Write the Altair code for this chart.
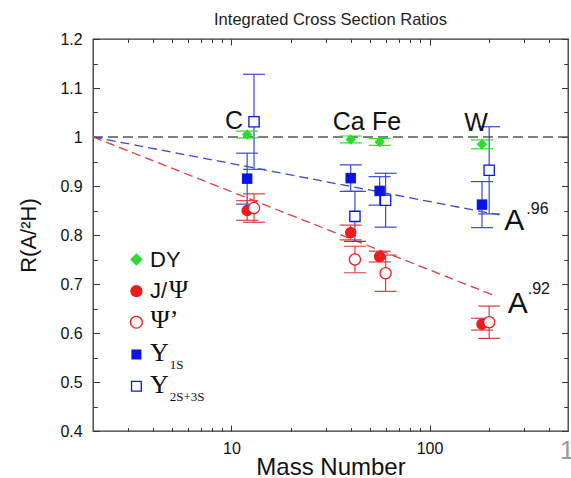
import altair as alt
import pandas as pd

# ---------------- data ----------------
title_text = "Integrated Cross Section Ratios"
x_title = "Mass Number"
y_title = "R(A/²H)"

elements = ["C", "Ca", "Fe", "W"]
mass = [12, 40, 56, 184]            # filled symbols
mass_open = [13, 42, 60, 200]       # open symbols (drawn slightly to the right)

dy_R = [1.005, 0.995, 0.990, 0.985]
dy_err = [0.007, 0.007, 0.007, 0.009]
jpsi_R = [0.850, 0.805, 0.756, 0.618]
jpsi_err = [0.020, 0.015, 0.011, 0.012]
psip_R = [0.855, 0.750, 0.722, 0.622]
psip_err = [0.029, 0.027, 0.037, 0.033]
y1s_R = [0.915, 0.916, 0.890, 0.862]
y1s_err = [0.052, 0.027, 0.029, 0.047]
y23s_R = [1.031, 0.838, 0.871, 0.932]
y23s_err = [0.097, 0.051, 0.055, 0.089]

ref_A = [2, 500]
ref_R = [1.0, 1.0]
fit96_A = [2, 225]
fit96_R = [1.0, 0.841]
fit92_A = [2, 217]
fit92_R = [1.0, 0.675]

x_major = [10, 100]
x_minor = [3, 4, 5, 6, 7, 8, 9, 20, 30, 40, 50, 60, 70, 80, 90, 200, 300, 400]
y_major = [0.4, 0.5, 0.6, 0.7, 0.8, 0.9, 1.0, 1.1, 1.2]
y_minor = [0.45, 0.55, 0.65, 0.75, 0.85, 0.95, 1.05, 1.15]

# ---------------- style ----------------
SANS = "Liberation Sans"
SERIF = "Liberation Serif"
GREEN = "#2bdc2b"
RED = "#ee1c1c"
RED_LINE = "#e03a3a"
BLUE = "#0a14e6"
BLUE_LINE = "#3a48d0"
INK = "#111111"
TICK = "#333333"

W, H = 475, 392

xs = alt.Scale(type="log", domain=[2, 500], nice=False)
ys = alt.Scale(domain=[0.4, 1.2], nice=False, zero=False)


def X(field="A", axis=None):
    return alt.X(f"{field}:Q", scale=xs, axis=axis)


def Y(field="R", axis=None):
    return alt.Y(f"{field}:Q", scale=ys, axis=axis)


ref_df = pd.DataFrame({"A": ref_A, "R": ref_R})
one = pd.DataFrame({"k": [0]})

layers = []

# ---------------- axes (inward ticks on all four sides) ----------------
def axis_layer(xaxis=None, yaxis=None):
    return alt.Chart(ref_df).mark_point(opacity=0).encode(
        x=X(axis=xaxis), y=Y(axis=yaxis)
    )

common = dict(domain=False, grid=False, tickColor=TICK, tickWidth=1)

layers.append(axis_layer(xaxis=alt.Axis(
    orient="bottom", values=x_major, tickSize=6, offset=-6,
    labelFont=SANS, labelFontSize=16, labelColor=INK, labelPadding=9,
    labelExpr="format(datum.value, 'd')",
    title=x_title, titleFont=SANS, titleFontSize=24, titleFontWeight="normal",
    titleColor=INK, titlePadding=-1, **common)))
layers.append(axis_layer(xaxis=alt.Axis(
    orient="bottom", values=x_minor, tickSize=3.5, offset=-3.5,
    labels=False, title=None, **common)))
layers.append(axis_layer(xaxis=alt.Axis(
    orient="top", values=x_major, tickSize=6, offset=-6,
    labels=False, title=None, **common)))
layers.append(axis_layer(xaxis=alt.Axis(
    orient="top", values=x_minor, tickSize=3.5, offset=-3.5,
    labels=False, title=None, **common)))
layers.append(axis_layer(yaxis=alt.Axis(
    orient="left", values=y_major, tickSize=6.5, offset=-6.5,
    labelFont=SANS, labelFontSize=16, labelColor=INK, labelPadding=10.8,
    labelExpr="datum.value == 1 ? '1' : format(datum.value, '.1f')",
    title=y_title, titleFont=SANS, titleFontSize=22, titleFontWeight="normal",
    titleColor=INK, titlePadding=19, **common)))
layers.append(axis_layer(yaxis=alt.Axis(
    orient="left", values=y_minor, tickSize=4.3, offset=-4.3,
    labels=False, title=None, **common)))
layers.append(axis_layer(yaxis=alt.Axis(
    orient="right", values=y_major, tickSize=6.5, offset=-6.5,
    labels=False, title=None, **common)))
layers.append(axis_layer(yaxis=alt.Axis(
    orient="right", values=y_minor, tickSize=4.3, offset=-4.3,
    labels=False, title=None, **common)))

# ---------------- reference and fit lines ----------------
layers.append(alt.Chart(ref_df).mark_line(
    color="#555555", strokeWidth=1.6, strokeDash=[10, 5]).encode(x=X(), y=Y()))
layers.append(alt.Chart(pd.DataFrame({"A": fit96_A, "R": fit96_R})).mark_line(
    color=BLUE_LINE, strokeWidth=1.3, strokeDash=[9, 5]).encode(x=X(), y=Y()))
layers.append(alt.Chart(pd.DataFrame({"A": fit92_A, "R": fit92_R})).mark_line(
    color=RED_LINE, strokeWidth=1.3, strokeDash=[9, 5]).encode(x=X(), y=Y()))


# ---------------- data series with error bars ----------------
def sdf(A, R, err):
    return pd.DataFrame({
        "A": A, "R": R,
        "lo": [r - e for r, e in zip(R, err)],
        "hi": [r + e for r, e in zip(R, err)],
    })


series = [
    # df, bar colour, shape, filled, fill, stroke, size
    (sdf(mass_open, y23s_R, y23s_err), BLUE_LINE, "square", False, "white", BLUE, 105),
    (sdf(mass, y1s_R, y1s_err), BLUE_LINE, "square", True, BLUE, BLUE, 110),
    (sdf(mass, jpsi_R, jpsi_err), RED_LINE, "circle", True, RED, RED, 135),
    (sdf(mass_open, psip_R, psip_err), RED_LINE, "circle", False, "white", RED, 125),
    (sdf(mass, dy_R, dy_err), GREEN, "diamond", True, GREEN, GREEN, 110),
]

for df, bc, shape, filled, fill, stroke, size in series:
    base = alt.Chart(df)
    layers.append(base.mark_rule(color=bc, strokeWidth=1.2).encode(
        x=X(), y=Y("lo"), y2="hi:Q"))
    for f in ("lo", "hi"):
        layers.append(base.mark_tick(orient="horizontal", color=bc, size=22,
                                     thickness=1.2, opacity=1).encode(x=X(), y=Y(f)))

for df, bc, shape, filled, fill, stroke, size in series:
    if filled:
        m = alt.Chart(df).mark_point(shape=shape, filled=True, color=fill,
                                     size=size, opacity=1, strokeWidth=0)
    else:
        m = alt.Chart(df).mark_point(shape=shape, filled=False, fill=fill,
                                     stroke=stroke, fillOpacity=1, size=size,
                                     opacity=1, strokeWidth=1.3)
    layers.append(m.encode(x=X(), y=Y()))

# ---------------- annotations ----------------
el_dx = [-13, -2, 7, -6]
el_dy = [-8.3, -6.6, -6.6, -5.6]
for name, a, dx, dy in zip(elements, mass, el_dx, el_dy):
    layers.append(alt.Chart(pd.DataFrame({"A": [a], "R": [1.0]})).mark_text(
        text=name, font=SANS, fontSize=25, color=INK, align="center",
        baseline="alphabetic", dx=dx, dy=dy).encode(x=X(), y=Y()))

for A_end, R_end, exp_txt, a_dx, a_dy, e_dx, e_dy in [
    (fit96_A[1], fit96_R[1], ".96", 5, 15.5, 27, -1.3),
    (fit92_A[1], fit92_R[1], ".92", 11.5, 16.3, 31.5, -2.1),
]:
    d = pd.DataFrame({"A": [A_end], "R": [R_end]})
    layers.append(alt.Chart(d).mark_text(
        text="A", font=SANS, fontSize=30, color=INK, align="left",
        baseline="alphabetic", dx=a_dx, dy=a_dy).encode(x=X(), y=Y()))
    layers.append(alt.Chart(d).mark_text(
        text=exp_txt, font=SANS, fontSize=16, color=INK, align="left",
        baseline="alphabetic", dx=e_dx, dy=e_dy).encode(x=X(), y=Y()))

# ---------------- legend (hand drawn) ----------------
leg_x = 43.4
leg_rows = [220.5, 252.2, 283.2, 315.5, 347.2]
leg_marks = [
    dict(shape="diamond", filled=True, color=GREEN, size=160, strokeWidth=0),
    dict(shape="circle", filled=True, color=RED, size=150, strokeWidth=0),
    dict(shape="circle", filled=False, fill="white", stroke=RED, fillOpacity=1,
         size=140, strokeWidth=1.3),
    dict(shape="square", filled=True, color=BLUE, size=100, strokeWidth=0),
    dict(shape="square", filled=False, fill="white", stroke=BLUE, fillOpacity=1,
         size=95, strokeWidth=1.3),
]
for yy, mk in zip(leg_rows, leg_marks):
    layers.append(alt.Chart(one).mark_point(opacity=1, **mk).encode(
        x=alt.value(leg_x), y=alt.value(yy)))

leg_texts = [
    ("DY", SANS, 22, 57.0, 228.2),
    ("J/", SANS, 22, 57.0, 258.8),
    ("Ψ", SERIF, 26, 76.0, 258.8),
    ("Ψ’", SERIF, 26, 57.5, 289.0),
    ("Υ", SERIF, 26, 57.0, 322.2),
    ("1S", SERIF, 13, 76.7, 329.8),
    ("Υ", SERIF, 26, 57.0, 354.2),
    ("2S+3S", SERIF, 13, 76.7, 362.2),
]
for txt, font, fs, tx, ty in leg_texts:
    layers.append(alt.Chart(one).mark_text(
        text=txt, font=font, fontSize=fs, color=INK, align="left",
        baseline="alphabetic").encode(x=alt.value(tx), y=alt.value(ty)))

# ---------------- title and stray page mark ----------------
layers.append(alt.Chart(one).mark_text(
    text=title_text, font=SANS, fontSize=16.5, color="#222222", align="center",
    baseline="alphabetic").encode(x=alt.value(W / 2), y=alt.value(-14.5)))
layers.append(alt.Chart(one).mark_text(
    text="1", font=SANS, fontSize=25, color="#9a9a9a", align="left",
    baseline="alphabetic").encode(x=alt.value(467), y=alt.value(419.8)))

chart = alt.layer(*layers).resolve_axis(
    x="independent", y="independent"
).properties(
    width=W, height=H,
    autosize=alt.AutoSizeParams(type="none"),
    padding={"left": 93, "top": 39, "right": 3, "bottom": 47},
    background="white",
).configure_view(stroke="#333333", strokeWidth=1.3)

chart.save("out.html", embed_options={"renderer": "svg", "actions": False})
